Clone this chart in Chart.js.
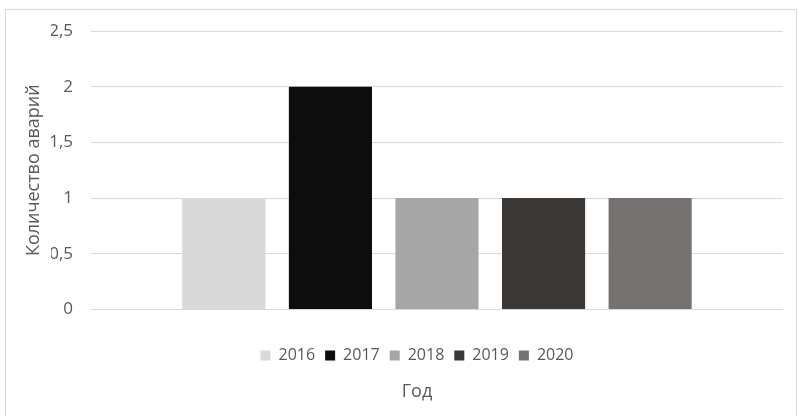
<!DOCTYPE html>
<html lang="ru">
<head>
<meta charset="utf-8">
<title>Количество аварий по годам</title>
<script src="https://cdn.jsdelivr.net/npm/chart.js@4/dist/chart.umd.min.js"></script>
<style>
  html, body { margin: 0; padding: 0; background: #fff; overflow: hidden; }
  #wrap { width: 798px; height: 416px; }
</style>
</head>
<body>
<div id="wrap"><canvas id="myChart" width="798" height="416"></canvas></div>
<script>
// one empty category, one series per year
const categories = [''];
const years = ['2016', '2017', '2018', '2019', '2020'];
const accidents = [1, 2, 1, 1, 1];
const barColors = ['#d9d9d9', '#0d0d0d', '#a6a6a6', '#3b3836', '#757171'];

const yMin = 0;
const yMax = 2.5;
const yStep = 0.5;

const textColor = '#595959';
const gridColor = '#d9d9d9';
const fontFamily = "'Open Sans', 'Noto Sans', sans-serif";

// white background + thin frame around the chart
const frame = {
    id: 'frame',
    beforeDraw(chart) {
        const ctx = chart.ctx;
        ctx.save();
        ctx.fillStyle = '#fff';
        ctx.fillRect(0, 0, chart.width, chart.height);
        ctx.strokeStyle = gridColor;
        ctx.lineWidth = 1;
        ctx.strokeRect(5.5, 9.5, 791, 440);
        ctx.restore();
    }
};

const data = {
    labels: categories,
    datasets: years.map((year, i) => ({
        label: year,
        data: [accidents[i]],
        backgroundColor: barColors[i],
        borderWidth: 0,
        categoryPercentage: 0.77,
        barPercentage: 0.78,
    }))
};

const config = {
    type: 'bar',
    data: data,
    options: {
        responsive: false,
        animation: false,
        layout: {
            padding: { left: 51, right: 15, top: 31, bottom: 13 }
        },
        plugins: {
            legend: {
                position: 'bottom',
                labels: {
                    boxWidth: 10,
                    boxHeight: 10,
                    padding: 10,
                    color: textColor,
                    font: { family: fontFamily, size: 16 }
                }
            },
            title: {
                display: true,
                position: 'bottom',
                text: 'Год',
                color: textColor,
                font: { family: fontFamily, size: 18, weight: 'normal' },
                padding: { top: 8, bottom: 0 }
            },
            tooltip: { enabled: false }
        },
        scales: {
            x: {
                grid: { display: false, drawTicks: false },
                border: { display: false },
                ticks: {
                    color: textColor,
                    padding: 5,
                    font: { family: fontFamily, size: 15 }
                }
            },
            y: {
                min: yMin,
                max: yMax,
                afterFit: scale => { scale.width = 40; },
                grid: { color: gridColor, drawTicks: false },
                border: { display: false },
                ticks: {
                    stepSize: yStep,
                    padding: 18,
                    color: textColor,
                    font: { family: fontFamily, size: 17 },
                    callback: v => String(v).replace('.', ',')
                },
                title: {
                    display: true,
                    text: 'Количество аварий',
                    color: textColor,
                    font: { family: fontFamily, size: 18 },
                    padding: { top: -28, bottom: 0 }
                }
            }
        }
    },
    plugins: [frame]
};

const myChart = new Chart(document.getElementById('myChart'), config);
</script>
</body>
</html>
